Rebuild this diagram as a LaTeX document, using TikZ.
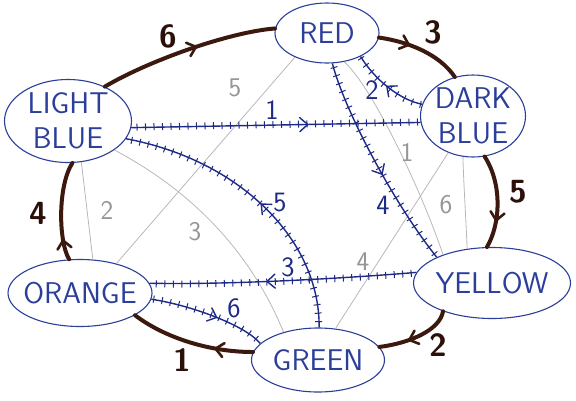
\documentclass[tikz,border=0pt]{standalone}
\usetikzlibrary{shapes.geometric,decorations.markings,arrows.meta}
\definecolor{inkn}{HTML}{2B3F9A}
\definecolor{inkb}{HTML}{1E2A86}
\definecolor{brn}{HTML}{3C190F}
\definecolor{brt}{HTML}{2A1008}
\definecolor{gl}{HTML}{B8B8B8}
\definecolor{gt}{HTML}{969696}
\begin{document}
\begin{tikzpicture}[x=1pt,y=-1pt,
  city/.style={ellipse, draw=inkn, line width=1.1pt, text=inkn,
    font=\sffamily\fontsize{30}{35}\selectfont, inner xsep=-45pt, inner ysep=-25pt, align=center},
  blueedge/.style={draw=inkb, line width=1.4pt,
    postaction={decorate, decoration={markings,
      mark=between positions 0.02 and 0.99 step 8.5pt with {\draw[inkb,line width=1pt] (0,-3pt)--(0,4pt);}}},
    postaction={decorate, decoration={markings,
      mark=at position #1 with {\draw[inkb, line width=1.4pt, line cap=round] (-8pt,-7pt)--(0,0)--(-8pt,7pt);}}}},
  brownedge/.style={draw=brn, line width=4pt, line cap=round,
    postaction={decorate, decoration={markings,
      mark=at position #1 with {\draw[brn, line width=2.6pt, line cap=round] (-8pt,-7pt)--(0,0)--(-8pt,7pt);}}}},
  grayedge/.style={draw=gl, line width=0.8pt},
  bl/.style={text=brt, font=\sffamily\bfseries\fontsize{32}{36}\selectfont, inner sep=0pt},
  ul/.style={text=inkb, font=\sffamily\fontsize{28}{32}\selectfont, inner sep=0pt},
  gtl/.style={text=gt, font=\sffamily\fontsize{27}{30}\selectfont, inner sep=0pt}
]
\useasboundingbox (0,0) rectangle (576,400);
% nodes
\node[city, minimum width=104pt, minimum height=60pt] (red) at (327,33) {RED};
\node[city, minimum width=105pt, minimum height=82pt] (db) at (473,116) {DARK\\BLUE};
\node[city, minimum width=127pt, minimum height=83pt] (lb) at (68,121) {LIGHT\\BLUE};
\node[city, minimum width=144pt, minimum height=67pt] (or) at (80,293) {ORANGE};
\node[city, minimum width=157pt, minimum height=71pt] (ye) at (492,283) {YELLOW};
\node[city, minimum width=133pt, minimum height=64pt] (gr) at (318,360) {GREEN};
% gray edges
\draw[grayedge] (red.217) -- (or.39);
\draw[grayedge] (lb.-72) -- (or.69);
\draw[grayedge] (lb.-32) .. controls (190,190) and (250,250) .. (gr.141);
\draw[grayedge] (red.-59) .. controls (375,90) and (425,200) .. (ye.150);
\draw[grayedge] (db.236) -- (gr.61);
\draw[grayedge] (db.256) .. controls (464,190) and (466,220) .. (ye.126);
% blue edges
\draw[blueedge=0.61] (lb.-6) -- (db.187);
\draw[blueedge=0.5] (db.167) .. controls (400,100) and (375,80) .. (red.-35);
\draw[blueedge=0.55] (red.-80) .. controls (345,112) and (395,205) .. (ye.155);
\draw[blueedge=0.48] (gr.88) .. controls (320,240) and (240,160) .. (lb.-17);
\draw[blueedge=0.56] (ye.172) .. controls (350,278) and (230,285) .. (or.8);
\draw[blueedge=0.57] (or.-5) .. controls (190,305) and (245,325) .. (gr.164);
% brown edges
\draw[brownedge=0.55] (lb.43) .. controls (150,60) and (230,32) .. (red.175);
\draw[brownedge=0.35] (red.-5) .. controls (410,42) and (440,55) .. (db.115);
\draw[brownedge=0.7] (db.-74) .. controls (503,185) and (500,225) .. (ye.98);
\draw[brownedge=0.6] (ye.-150) .. controls (440,330) and (410,343) .. (gr.12);
\draw[brownedge=0.3] (gr.173) .. controls (210,352) and (165,338) .. (or.-22);
\draw[brownedge=0.2] (or.108) .. controls (58,240) and (58,185) .. (lb.-84);
% labels
\node[bl] (b6) at (168,36) {6};
\node[bl] (b3) at (433,32) {3};
\node[bl] (b5) at (518,192) {5};
\node[bl] (b2) at (438,345) {2};
\node[bl] (b1) at (182,360) {1};
\node[bl] (b4) at (38,213) {4};
\node[ul] (u1) at (272,110) {1};
\node[ul] (u2) at (372,90) {2};
\node[ul] (u4) at (383,205) {4};
\node[ul] (u5) at (280,203) {5};
\node[ul] (u3) at (288,267) {3};
\node[ul] (u6) at (234,308) {6};
\node[gtl] (g5) at (235,88) {5};
\node[gtl] (g2) at (107,210) {2};
\node[gtl] (g3) at (195,232) {3};
\node[gtl] (g1) at (407,152) {1};
\node[gtl] (g4) at (363,262) {4};
\node[gtl] (g6) at (446,205) {6};
\end{tikzpicture}
\end{document}
